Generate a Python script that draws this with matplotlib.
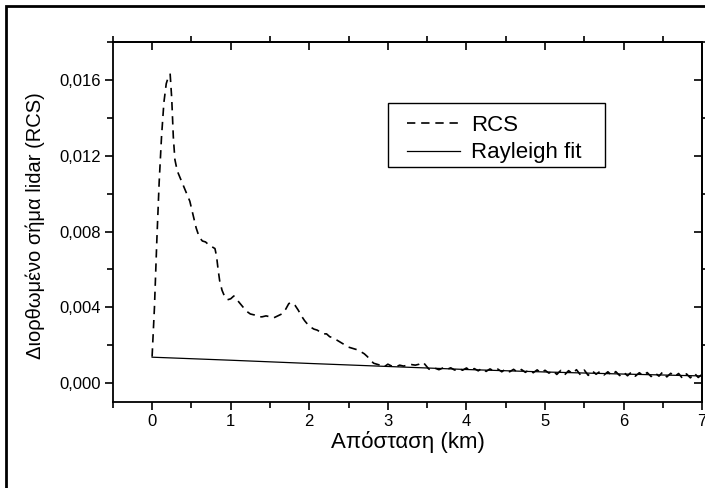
import matplotlib
matplotlib.use("Agg")
import matplotlib.pyplot as plt
from matplotlib.ticker import MultipleLocator, FuncFormatter
from matplotlib.patches import Rectangle

plt.rcParams['font.family'] = ['Liberation Sans', 'DejaVu Sans']

# Σήμα lidar διορθωμένο ως προς την απόσταση (RCS), km / τιμές
rcs_km = [0.00, 0.03, 0.06, 0.09, 0.12, 0.15, 0.18, 0.21, 0.23, 0.25,
          0.27, 0.29, 0.32, 0.36, 0.40, 0.44, 0.48, 0.52, 0.56, 0.60,
          0.64, 0.68, 0.72, 0.76, 0.80, 0.82, 0.84, 0.86, 0.89, 0.92,
          0.96, 1.00, 1.04, 1.08, 1.12, 1.16, 1.20, 1.25, 1.30, 1.35,
          1.40, 1.45, 1.50, 1.55, 1.60, 1.65, 1.70, 1.74, 1.78, 1.82,
          1.86, 1.90, 1.94, 1.98, 2.02, 2.06, 2.10, 2.14, 2.18, 2.22,
          2.26, 2.30, 2.34, 2.38, 2.42, 2.46, 2.50, 2.54, 2.58, 2.62,
          2.66, 2.70, 2.74, 2.78, 2.82, 2.86, 2.90, 2.95, 3.00, 3.05,
          3.10, 3.15, 3.20, 3.25, 3.30, 3.35, 3.40, 3.45, 3.48, 3.52,
          3.55, 3.60, 3.65, 3.70, 3.75, 3.80, 3.85, 3.90, 3.95, 4.00,
          4.05, 4.10, 4.15, 4.20, 4.25, 4.30, 4.35, 4.40, 4.45, 4.50,
          4.55, 4.60, 4.65, 4.70, 4.75, 4.80, 4.85, 4.90, 4.95, 5.00,
          5.05, 5.10, 5.15, 5.20, 5.25, 5.30, 5.35, 5.40, 5.45, 5.50,
          5.55, 5.60, 5.65, 5.70, 5.75, 5.80, 5.85, 5.90, 5.95, 6.00,
          6.05, 6.10, 6.15, 6.20, 6.25, 6.30, 6.35, 6.40, 6.45, 6.50,
          6.55, 6.60, 6.65, 6.70, 6.75, 6.80, 6.85, 6.90, 6.95, 7.00]
rcs_val = [0.00140, 0.00400, 0.00750, 0.01060, 0.01300, 0.01480, 0.01580, 0.01620, 0.01630, 0.01500,
           0.01300, 0.01180, 0.01120, 0.01080, 0.01040, 0.01000, 0.00960, 0.00890, 0.00820, 0.00770,
           0.00750, 0.00745, 0.00730, 0.00720, 0.00710, 0.00670, 0.00600, 0.00540, 0.00490, 0.00460,
           0.00440, 0.00445, 0.00460, 0.00440, 0.00420, 0.00400, 0.00380, 0.00365, 0.00360, 0.00350,
           0.00350, 0.00355, 0.00350, 0.00345, 0.00355, 0.00365, 0.00390, 0.00420, 0.00425, 0.00410,
           0.00385, 0.00355, 0.00330, 0.00310, 0.00295, 0.00285, 0.00280, 0.00270, 0.00260, 0.00260,
           0.00245, 0.00240, 0.00230, 0.00220, 0.00210, 0.00200, 0.00190, 0.00185, 0.00180, 0.00175,
           0.00165, 0.00155, 0.00140, 0.00120, 0.00105, 0.00100, 0.00095, 0.00085, 0.00100, 0.00090,
           0.00085, 0.00095, 0.00090, 0.00095, 0.00098, 0.00095, 0.00100, 0.00110, 0.00095, 0.00075,
           0.00070, 0.00079, 0.00071, 0.00080, 0.00072, 0.00081, 0.00069, 0.00079, 0.00068, 0.00080,
           0.00067, 0.00077, 0.00065, 0.00079, 0.00062, 0.00075, 0.00064, 0.00074, 0.00060, 0.00075,
           0.00060, 0.00073, 0.00058, 0.00072, 0.00057, 0.00071, 0.00055, 0.00070, 0.00054, 0.00068,
           0.00053, 0.00066, 0.00046, 0.00067, 0.00044, 0.00066, 0.00050, 0.00071, 0.00044, 0.00069,
           0.00041, 0.00065, 0.00047, 0.00062, 0.00043, 0.00060, 0.00041, 0.00061, 0.00040, 0.00058,
           0.00039, 0.00059, 0.00037, 0.00055, 0.00040, 0.00056, 0.00035, 0.00054, 0.00037, 0.00060,
           0.00033, 0.00052, 0.00035, 0.00051, 0.00025, 0.00049, 0.00028, 0.00053, 0.00030, 0.00047]

# Προσαρμογή Rayleigh
fit_km = [0, 1, 2, 3, 4, 5, 6, 7]
fit_val = [0.00137, 0.00121, 0.00104, 0.00088, 0.00072, 0.00059, 0.00048, 0.00038]

fig = plt.figure(figsize=(7.05, 4.88), dpi=100)
ax = fig.add_axes([0.160, 0.176, 0.836, 0.738])

ax.plot(rcs_km, rcs_val, color='black', lw=1.2, linestyle=(0, (5, 3.5)), label='RCS')
ax.plot(fit_km, fit_val, color='black', lw=0.9, label='Rayleigh fit')

ax.set_xlim(-0.5, 7)
ax.set_ylim(-0.001, 0.018)

ax.xaxis.set_major_locator(MultipleLocator(1))
ax.xaxis.set_minor_locator(MultipleLocator(0.5))
ax.yaxis.set_major_locator(MultipleLocator(0.004))
ax.yaxis.set_minor_locator(MultipleLocator(0.002))
ax.yaxis.set_major_formatter(FuncFormatter(lambda v, p: f"{v:.3f}".replace('.', ',')))
ax.xaxis.set_major_formatter(FuncFormatter(lambda v, p: f"{v:.0f}"))

ax.tick_params(which='major', direction='out', length=6, width=1.2, labelsize=12, pad=2.5)
ax.tick_params(which='minor', direction='out', length=4, width=1.2)

# πάνω και δεξιά: κύριες γραμμές προς τα μέσα, δευτερεύουσες προς τα έξω
top = ax.secondary_xaxis('top')
top.xaxis.set_major_locator(MultipleLocator(1))
top.xaxis.set_minor_locator(MultipleLocator(0.5))
top.tick_params(which='major', direction='in', length=6, width=1.2, labeltop=False)
top.tick_params(which='minor', direction='out', length=4, width=1.2)
right = ax.secondary_yaxis('right')
right.yaxis.set_major_locator(MultipleLocator(0.004))
right.yaxis.set_minor_locator(MultipleLocator(0.002))
right.tick_params(which='major', direction='in', length=6, width=1.2, labelright=False)
right.tick_params(which='minor', direction='out', length=4, width=1.2)

for s in ax.spines.values():
    s.set_linewidth(1.3)
for s in list(top.spines.values()) + list(right.spines.values()):
    s.set_linewidth(1.3)

ax.set_xlabel('Απόσταση (km)', fontsize=16)
ax.set_ylabel('Διορθωμένο σήμα lidar (RCS)', fontsize=14.5)
ax.xaxis.set_label_coords(0.5, -0.08)
ax.yaxis.set_label_coords(-0.115, 0.49)

# υπόμνημα χωρίς δικό του πλαίσιο, το πλαίσιο σχεδιάζεται χωριστά
leg = ax.legend(loc='upper left', bbox_to_anchor=(0.500, 0.798), fontsize=16,
                frameon=False, handlelength=2.35, handletextpad=0.5,
                borderpad=0, labelspacing=0.3, borderaxespad=0)
ax.add_patch(Rectangle((0.467, 0.653), 0.368, 0.178, transform=ax.transAxes,
                       fill=False, ec='black', lw=1.0, zorder=5))

# εξωτερικό πλαίσιο
fig.patches.append(Rectangle((6 / 705, -0.1), 1.2, 1.1 - 6 / 488, transform=fig.transFigure,
                             fill=False, ec='black', lw=2))

fig.savefig('out.png', dpi=100)
